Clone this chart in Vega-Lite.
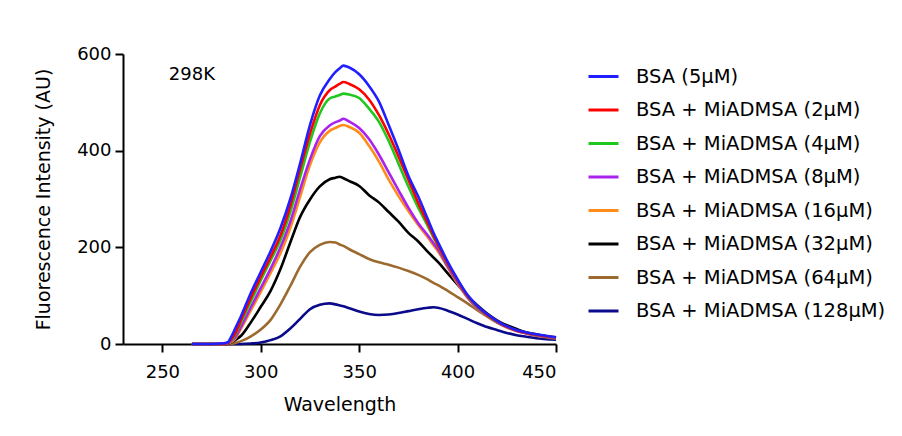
{
  "$schema": "https://vega.github.io/schema/vega-lite/v6.json",
  "width": 433,
  "height": 290,
  "autosize": {"type": "none"},
  "padding": {"left": 123, "top": 54, "right": 346, "bottom": 92},
  "background": "white",
  "config": {
    "view": {"stroke": null},
    "font": "DejaVu Sans",
    "axis": {
      "grid": false,
      "domainColor": "black",
      "domainWidth": 2,
      "tickColor": "black",
      "tickWidth": 2,
      "tickSize": 8,
      "labelFont": "DejaVu Sans",
      "labelFontSize": 18,
      "labelColor": "black",
      "titleFont": "DejaVu Sans",
      "titleFontSize": 19,
      "titleFontWeight": "normal",
      "titleColor": "black"
    },
    "legend": {
      "labelFont": "DejaVu Sans",
      "labelFontSize": 19.5,
      "labelColor": "black",
      "labelLimit": 400
    }
  },
  "datasets": {
    "spectra": [
      {"s":"BSA + MiADMSA (128μM)","w":265,"v":0},{"s":"BSA + MiADMSA (128μM)","w":270,"v":0},{"s":"BSA + MiADMSA (128μM)","w":275,"v":0},{"s":"BSA + MiADMSA (128μM)","w":280,"v":0},{"s":"BSA + MiADMSA (128μM)","w":283,"v":0},{"s":"BSA + MiADMSA (128μM)","w":285,"v":0},{"s":"BSA + MiADMSA (128μM)","w":287,"v":0},{"s":"BSA + MiADMSA (128μM)","w":290,"v":0},{"s":"BSA + MiADMSA (128μM)","w":295,"v":1},{"s":"BSA + MiADMSA (128μM)","w":300,"v":3},{"s":"BSA + MiADMSA (128μM)","w":305,"v":8},{"s":"BSA + MiADMSA (128μM)","w":310,"v":16},{"s":"BSA + MiADMSA (128μM)","w":315,"v":32},{"s":"BSA + MiADMSA (128μM)","w":320,"v":52},{"s":"BSA + MiADMSA (128μM)","w":325,"v":72},{"s":"BSA + MiADMSA (128μM)","w":330,"v":81},{"s":"BSA + MiADMSA (128μM)","w":335,"v":84},{"s":"BSA + MiADMSA (128μM)","w":338,"v":82},{"s":"BSA + MiADMSA (128μM)","w":340,"v":80},{"s":"BSA + MiADMSA (128μM)","w":342,"v":78},{"s":"BSA + MiADMSA (128μM)","w":345,"v":74},{"s":"BSA + MiADMSA (128μM)","w":350,"v":67},{"s":"BSA + MiADMSA (128μM)","w":355,"v":62},{"s":"BSA + MiADMSA (128μM)","w":360,"v":60},{"s":"BSA + MiADMSA (128μM)","w":365,"v":61},{"s":"BSA + MiADMSA (128μM)","w":370,"v":64},{"s":"BSA + MiADMSA (128μM)","w":375,"v":68},{"s":"BSA + MiADMSA (128μM)","w":380,"v":72},{"s":"BSA + MiADMSA (128μM)","w":385,"v":75},{"s":"BSA + MiADMSA (128μM)","w":388,"v":76},{"s":"BSA + MiADMSA (128μM)","w":390,"v":75},{"s":"BSA + MiADMSA (128μM)","w":395,"v":69},{"s":"BSA + MiADMSA (128μM)","w":400,"v":61},{"s":"BSA + MiADMSA (128μM)","w":405,"v":52},{"s":"BSA + MiADMSA (128μM)","w":410,"v":43},{"s":"BSA + MiADMSA (128μM)","w":415,"v":35},{"s":"BSA + MiADMSA (128μM)","w":420,"v":29},{"s":"BSA + MiADMSA (128μM)","w":425,"v":23},{"s":"BSA + MiADMSA (128μM)","w":430,"v":18},{"s":"BSA + MiADMSA (128μM)","w":435,"v":15},{"s":"BSA + MiADMSA (128μM)","w":440,"v":12},{"s":"BSA + MiADMSA (128μM)","w":445,"v":10},{"s":"BSA + MiADMSA (128μM)","w":450,"v":9},

      {"s":"BSA + MiADMSA (64μM)","w":265,"v":0},{"s":"BSA + MiADMSA (64μM)","w":270,"v":0},{"s":"BSA + MiADMSA (64μM)","w":275,"v":0},{"s":"BSA + MiADMSA (64μM)","w":280,"v":0},{"s":"BSA + MiADMSA (64μM)","w":283,"v":0},{"s":"BSA + MiADMSA (64μM)","w":285,"v":0},{"s":"BSA + MiADMSA (64μM)","w":287,"v":2},{"s":"BSA + MiADMSA (64μM)","w":290,"v":6},{"s":"BSA + MiADMSA (64μM)","w":295,"v":16},{"s":"BSA + MiADMSA (64μM)","w":300,"v":30},{"s":"BSA + MiADMSA (64μM)","w":305,"v":50},{"s":"BSA + MiADMSA (64μM)","w":310,"v":82},{"s":"BSA + MiADMSA (64μM)","w":315,"v":120},{"s":"BSA + MiADMSA (64μM)","w":320,"v":160},{"s":"BSA + MiADMSA (64μM)","w":325,"v":190},{"s":"BSA + MiADMSA (64μM)","w":330,"v":205},{"s":"BSA + MiADMSA (64μM)","w":335,"v":211},{"s":"BSA + MiADMSA (64μM)","w":338,"v":210},{"s":"BSA + MiADMSA (64μM)","w":340,"v":206},{"s":"BSA + MiADMSA (64μM)","w":342,"v":203},{"s":"BSA + MiADMSA (64μM)","w":345,"v":196},{"s":"BSA + MiADMSA (64μM)","w":350,"v":186},{"s":"BSA + MiADMSA (64μM)","w":355,"v":176},{"s":"BSA + MiADMSA (64μM)","w":360,"v":169},{"s":"BSA + MiADMSA (64μM)","w":365,"v":164},{"s":"BSA + MiADMSA (64μM)","w":370,"v":158},{"s":"BSA + MiADMSA (64μM)","w":375,"v":151},{"s":"BSA + MiADMSA (64μM)","w":380,"v":143},{"s":"BSA + MiADMSA (64μM)","w":385,"v":133},{"s":"BSA + MiADMSA (64μM)","w":388,"v":126},{"s":"BSA + MiADMSA (64μM)","w":390,"v":122},{"s":"BSA + MiADMSA (64μM)","w":395,"v":110},{"s":"BSA + MiADMSA (64μM)","w":400,"v":97},{"s":"BSA + MiADMSA (64μM)","w":405,"v":84},{"s":"BSA + MiADMSA (64μM)","w":410,"v":70},{"s":"BSA + MiADMSA (64μM)","w":415,"v":57},{"s":"BSA + MiADMSA (64μM)","w":420,"v":46},{"s":"BSA + MiADMSA (64μM)","w":425,"v":36},{"s":"BSA + MiADMSA (64μM)","w":430,"v":28},{"s":"BSA + MiADMSA (64μM)","w":435,"v":22},{"s":"BSA + MiADMSA (64μM)","w":440,"v":17},{"s":"BSA + MiADMSA (64μM)","w":445,"v":14},{"s":"BSA + MiADMSA (64μM)","w":450,"v":11},

      {"s":"BSA + MiADMSA (32μM)","w":265,"v":0},{"s":"BSA + MiADMSA (32μM)","w":270,"v":0},{"s":"BSA + MiADMSA (32μM)","w":275,"v":0},{"s":"BSA + MiADMSA (32μM)","w":280,"v":0},{"s":"BSA + MiADMSA (32μM)","w":283,"v":0},{"s":"BSA + MiADMSA (32μM)","w":285,"v":3},{"s":"BSA + MiADMSA (32μM)","w":287,"v":8},{"s":"BSA + MiADMSA (32μM)","w":290,"v":17},{"s":"BSA + MiADMSA (32μM)","w":295,"v":45},{"s":"BSA + MiADMSA (32μM)","w":300,"v":77},{"s":"BSA + MiADMSA (32μM)","w":305,"v":110},{"s":"BSA + MiADMSA (32μM)","w":310,"v":155},{"s":"BSA + MiADMSA (32μM)","w":315,"v":210},{"s":"BSA + MiADMSA (32μM)","w":320,"v":263},{"s":"BSA + MiADMSA (32μM)","w":325,"v":299},{"s":"BSA + MiADMSA (32μM)","w":330,"v":326},{"s":"BSA + MiADMSA (32μM)","w":335,"v":341},{"s":"BSA + MiADMSA (32μM)","w":338,"v":344},{"s":"BSA + MiADMSA (32μM)","w":340,"v":346},{"s":"BSA + MiADMSA (32μM)","w":342,"v":343},{"s":"BSA + MiADMSA (32μM)","w":345,"v":337},{"s":"BSA + MiADMSA (32μM)","w":350,"v":327},{"s":"BSA + MiADMSA (32μM)","w":355,"v":308},{"s":"BSA + MiADMSA (32μM)","w":360,"v":293},{"s":"BSA + MiADMSA (32μM)","w":365,"v":273},{"s":"BSA + MiADMSA (32μM)","w":370,"v":253},{"s":"BSA + MiADMSA (32μM)","w":375,"v":230},{"s":"BSA + MiADMSA (32μM)","w":380,"v":212},{"s":"BSA + MiADMSA (32μM)","w":385,"v":190},{"s":"BSA + MiADMSA (32μM)","w":388,"v":178},{"s":"BSA + MiADMSA (32μM)","w":390,"v":170},{"s":"BSA + MiADMSA (32μM)","w":395,"v":146},{"s":"BSA + MiADMSA (32μM)","w":400,"v":123},{"s":"BSA + MiADMSA (32μM)","w":405,"v":100},{"s":"BSA + MiADMSA (32μM)","w":410,"v":80},{"s":"BSA + MiADMSA (32μM)","w":415,"v":63},{"s":"BSA + MiADMSA (32μM)","w":420,"v":49},{"s":"BSA + MiADMSA (32μM)","w":425,"v":39},{"s":"BSA + MiADMSA (32μM)","w":430,"v":31},{"s":"BSA + MiADMSA (32μM)","w":435,"v":24},{"s":"BSA + MiADMSA (32μM)","w":440,"v":20},{"s":"BSA + MiADMSA (32μM)","w":445,"v":16},{"s":"BSA + MiADMSA (32μM)","w":450,"v":13},

      {"s":"BSA + MiADMSA (16μM)","w":265,"v":0},{"s":"BSA + MiADMSA (16μM)","w":270,"v":0},{"s":"BSA + MiADMSA (16μM)","w":275,"v":0},{"s":"BSA + MiADMSA (16μM)","w":280,"v":0},{"s":"BSA + MiADMSA (16μM)","w":283,"v":1},{"s":"BSA + MiADMSA (16μM)","w":285,"v":4},{"s":"BSA + MiADMSA (16μM)","w":287,"v":11},{"s":"BSA + MiADMSA (16μM)","w":290,"v":32},{"s":"BSA + MiADMSA (16μM)","w":295,"v":70},{"s":"BSA + MiADMSA (16μM)","w":300,"v":108},{"s":"BSA + MiADMSA (16μM)","w":305,"v":147},{"s":"BSA + MiADMSA (16μM)","w":310,"v":188},{"s":"BSA + MiADMSA (16μM)","w":315,"v":240},{"s":"BSA + MiADMSA (16μM)","w":320,"v":305},{"s":"BSA + MiADMSA (16μM)","w":325,"v":370},{"s":"BSA + MiADMSA (16μM)","w":330,"v":417},{"s":"BSA + MiADMSA (16μM)","w":335,"v":441},{"s":"BSA + MiADMSA (16μM)","w":338,"v":447},{"s":"BSA + MiADMSA (16μM)","w":340,"v":451},{"s":"BSA + MiADMSA (16μM)","w":342,"v":453},{"s":"BSA + MiADMSA (16μM)","w":345,"v":449},{"s":"BSA + MiADMSA (16μM)","w":350,"v":437},{"s":"BSA + MiADMSA (16μM)","w":355,"v":410},{"s":"BSA + MiADMSA (16μM)","w":360,"v":378},{"s":"BSA + MiADMSA (16μM)","w":365,"v":340},{"s":"BSA + MiADMSA (16μM)","w":370,"v":306},{"s":"BSA + MiADMSA (16μM)","w":375,"v":275},{"s":"BSA + MiADMSA (16μM)","w":380,"v":246},{"s":"BSA + MiADMSA (16μM)","w":385,"v":220},{"s":"BSA + MiADMSA (16μM)","w":388,"v":203},{"s":"BSA + MiADMSA (16μM)","w":390,"v":192},{"s":"BSA + MiADMSA (16μM)","w":395,"v":158},{"s":"BSA + MiADMSA (16μM)","w":400,"v":125},{"s":"BSA + MiADMSA (16μM)","w":405,"v":96},{"s":"BSA + MiADMSA (16μM)","w":410,"v":74},{"s":"BSA + MiADMSA (16μM)","w":415,"v":57},{"s":"BSA + MiADMSA (16μM)","w":420,"v":44},{"s":"BSA + MiADMSA (16μM)","w":425,"v":34},{"s":"BSA + MiADMSA (16μM)","w":430,"v":27},{"s":"BSA + MiADMSA (16μM)","w":435,"v":22},{"s":"BSA + MiADMSA (16μM)","w":440,"v":18},{"s":"BSA + MiADMSA (16μM)","w":445,"v":15},{"s":"BSA + MiADMSA (16μM)","w":450,"v":13},

      {"s":"BSA + MiADMSA (8μM)","w":265,"v":0},{"s":"BSA + MiADMSA (8μM)","w":270,"v":0},{"s":"BSA + MiADMSA (8μM)","w":275,"v":0},{"s":"BSA + MiADMSA (8μM)","w":280,"v":0},{"s":"BSA + MiADMSA (8μM)","w":283,"v":1},{"s":"BSA + MiADMSA (8μM)","w":285,"v":6},{"s":"BSA + MiADMSA (8μM)","w":287,"v":14},{"s":"BSA + MiADMSA (8μM)","w":290,"v":36},{"s":"BSA + MiADMSA (8μM)","w":295,"v":76},{"s":"BSA + MiADMSA (8μM)","w":300,"v":116},{"s":"BSA + MiADMSA (8μM)","w":305,"v":156},{"s":"BSA + MiADMSA (8μM)","w":310,"v":200},{"s":"BSA + MiADMSA (8μM)","w":315,"v":253},{"s":"BSA + MiADMSA (8μM)","w":320,"v":320},{"s":"BSA + MiADMSA (8μM)","w":325,"v":382},{"s":"BSA + MiADMSA (8μM)","w":330,"v":430},{"s":"BSA + MiADMSA (8μM)","w":335,"v":452},{"s":"BSA + MiADMSA (8μM)","w":338,"v":459},{"s":"BSA + MiADMSA (8μM)","w":340,"v":462},{"s":"BSA + MiADMSA (8μM)","w":342,"v":466},{"s":"BSA + MiADMSA (8μM)","w":345,"v":460},{"s":"BSA + MiADMSA (8μM)","w":350,"v":447},{"s":"BSA + MiADMSA (8μM)","w":355,"v":424},{"s":"BSA + MiADMSA (8μM)","w":360,"v":392},{"s":"BSA + MiADMSA (8μM)","w":365,"v":355},{"s":"BSA + MiADMSA (8μM)","w":370,"v":318},{"s":"BSA + MiADMSA (8μM)","w":375,"v":282},{"s":"BSA + MiADMSA (8μM)","w":380,"v":250},{"s":"BSA + MiADMSA (8μM)","w":385,"v":224},{"s":"BSA + MiADMSA (8μM)","w":388,"v":207},{"s":"BSA + MiADMSA (8μM)","w":390,"v":196},{"s":"BSA + MiADMSA (8μM)","w":395,"v":160},{"s":"BSA + MiADMSA (8μM)","w":400,"v":127},{"s":"BSA + MiADMSA (8μM)","w":405,"v":97},{"s":"BSA + MiADMSA (8μM)","w":410,"v":75},{"s":"BSA + MiADMSA (8μM)","w":415,"v":58},{"s":"BSA + MiADMSA (8μM)","w":420,"v":45},{"s":"BSA + MiADMSA (8μM)","w":425,"v":35},{"s":"BSA + MiADMSA (8μM)","w":430,"v":27},{"s":"BSA + MiADMSA (8μM)","w":435,"v":22},{"s":"BSA + MiADMSA (8μM)","w":440,"v":18},{"s":"BSA + MiADMSA (8μM)","w":445,"v":15},{"s":"BSA + MiADMSA (8μM)","w":450,"v":13},

      {"s":"BSA + MiADMSA (4μM)","w":265,"v":0},{"s":"BSA + MiADMSA (4μM)","w":270,"v":0},{"s":"BSA + MiADMSA (4μM)","w":275,"v":0},{"s":"BSA + MiADMSA (4μM)","w":280,"v":0},{"s":"BSA + MiADMSA (4μM)","w":283,"v":2},{"s":"BSA + MiADMSA (4μM)","w":285,"v":8},{"s":"BSA + MiADMSA (4μM)","w":287,"v":19},{"s":"BSA + MiADMSA (4μM)","w":290,"v":45},{"s":"BSA + MiADMSA (4μM)","w":295,"v":88},{"s":"BSA + MiADMSA (4μM)","w":300,"v":132},{"s":"BSA + MiADMSA (4μM)","w":305,"v":173},{"s":"BSA + MiADMSA (4μM)","w":310,"v":215},{"s":"BSA + MiADMSA (4μM)","w":315,"v":273},{"s":"BSA + MiADMSA (4μM)","w":320,"v":345},{"s":"BSA + MiADMSA (4μM)","w":325,"v":418},{"s":"BSA + MiADMSA (4μM)","w":330,"v":477},{"s":"BSA + MiADMSA (4μM)","w":335,"v":508},{"s":"BSA + MiADMSA (4μM)","w":338,"v":512},{"s":"BSA + MiADMSA (4μM)","w":340,"v":515},{"s":"BSA + MiADMSA (4μM)","w":342,"v":518},{"s":"BSA + MiADMSA (4μM)","w":345,"v":516},{"s":"BSA + MiADMSA (4μM)","w":350,"v":509},{"s":"BSA + MiADMSA (4μM)","w":355,"v":487},{"s":"BSA + MiADMSA (4μM)","w":360,"v":460},{"s":"BSA + MiADMSA (4μM)","w":365,"v":420},{"s":"BSA + MiADMSA (4μM)","w":370,"v":373},{"s":"BSA + MiADMSA (4μM)","w":375,"v":326},{"s":"BSA + MiADMSA (4μM)","w":380,"v":282},{"s":"BSA + MiADMSA (4μM)","w":385,"v":243},{"s":"BSA + MiADMSA (4μM)","w":388,"v":218},{"s":"BSA + MiADMSA (4μM)","w":390,"v":203},{"s":"BSA + MiADMSA (4μM)","w":395,"v":164},{"s":"BSA + MiADMSA (4μM)","w":400,"v":130},{"s":"BSA + MiADMSA (4μM)","w":405,"v":99},{"s":"BSA + MiADMSA (4μM)","w":410,"v":77},{"s":"BSA + MiADMSA (4μM)","w":415,"v":59},{"s":"BSA + MiADMSA (4μM)","w":420,"v":46},{"s":"BSA + MiADMSA (4μM)","w":425,"v":36},{"s":"BSA + MiADMSA (4μM)","w":430,"v":28},{"s":"BSA + MiADMSA (4μM)","w":435,"v":23},{"s":"BSA + MiADMSA (4μM)","w":440,"v":19},{"s":"BSA + MiADMSA (4μM)","w":445,"v":16},{"s":"BSA + MiADMSA (4μM)","w":450,"v":14},

      {"s":"BSA + MiADMSA (2μM)","w":265,"v":0},{"s":"BSA + MiADMSA (2μM)","w":270,"v":0},{"s":"BSA + MiADMSA (2μM)","w":275,"v":0},{"s":"BSA + MiADMSA (2μM)","w":280,"v":0},{"s":"BSA + MiADMSA (2μM)","w":283,"v":2},{"s":"BSA + MiADMSA (2μM)","w":285,"v":10},{"s":"BSA + MiADMSA (2μM)","w":287,"v":22},{"s":"BSA + MiADMSA (2μM)","w":290,"v":50},{"s":"BSA + MiADMSA (2μM)","w":295,"v":96},{"s":"BSA + MiADMSA (2μM)","w":300,"v":139},{"s":"BSA + MiADMSA (2μM)","w":305,"v":180},{"s":"BSA + MiADMSA (2μM)","w":310,"v":225},{"s":"BSA + MiADMSA (2μM)","w":315,"v":286},{"s":"BSA + MiADMSA (2μM)","w":320,"v":362},{"s":"BSA + MiADMSA (2μM)","w":325,"v":435},{"s":"BSA + MiADMSA (2μM)","w":330,"v":494},{"s":"BSA + MiADMSA (2μM)","w":335,"v":525},{"s":"BSA + MiADMSA (2μM)","w":338,"v":533},{"s":"BSA + MiADMSA (2μM)","w":340,"v":538},{"s":"BSA + MiADMSA (2μM)","w":342,"v":542},{"s":"BSA + MiADMSA (2μM)","w":345,"v":538},{"s":"BSA + MiADMSA (2μM)","w":350,"v":527},{"s":"BSA + MiADMSA (2μM)","w":355,"v":506},{"s":"BSA + MiADMSA (2μM)","w":360,"v":474},{"s":"BSA + MiADMSA (2μM)","w":365,"v":434},{"s":"BSA + MiADMSA (2μM)","w":370,"v":388},{"s":"BSA + MiADMSA (2μM)","w":375,"v":340},{"s":"BSA + MiADMSA (2μM)","w":380,"v":292},{"s":"BSA + MiADMSA (2μM)","w":385,"v":248},{"s":"BSA + MiADMSA (2μM)","w":388,"v":222},{"s":"BSA + MiADMSA (2μM)","w":390,"v":205},{"s":"BSA + MiADMSA (2μM)","w":395,"v":166},{"s":"BSA + MiADMSA (2μM)","w":400,"v":131},{"s":"BSA + MiADMSA (2μM)","w":405,"v":100},{"s":"BSA + MiADMSA (2μM)","w":410,"v":78},{"s":"BSA + MiADMSA (2μM)","w":415,"v":60},{"s":"BSA + MiADMSA (2μM)","w":420,"v":47},{"s":"BSA + MiADMSA (2μM)","w":425,"v":36},{"s":"BSA + MiADMSA (2μM)","w":430,"v":28},{"s":"BSA + MiADMSA (2μM)","w":435,"v":23},{"s":"BSA + MiADMSA (2μM)","w":440,"v":19},{"s":"BSA + MiADMSA (2μM)","w":445,"v":16},{"s":"BSA + MiADMSA (2μM)","w":450,"v":14},

      {"s":"BSA (5μM)","w":265,"v":0},{"s":"BSA (5μM)","w":270,"v":0},{"s":"BSA (5μM)","w":275,"v":0},{"s":"BSA (5μM)","w":280,"v":1},{"s":"BSA (5μM)","w":283,"v":3},{"s":"BSA (5μM)","w":285,"v":15},{"s":"BSA (5μM)","w":287,"v":32},{"s":"BSA (5μM)","w":290,"v":58},{"s":"BSA (5μM)","w":295,"v":106},{"s":"BSA (5μM)","w":300,"v":149},{"s":"BSA (5μM)","w":305,"v":192},{"s":"BSA (5μM)","w":310,"v":240},{"s":"BSA (5μM)","w":315,"v":300},{"s":"BSA (5μM)","w":320,"v":374},{"s":"BSA (5μM)","w":325,"v":453},{"s":"BSA (5μM)","w":330,"v":514},{"s":"BSA (5μM)","w":335,"v":548},{"s":"BSA (5μM)","w":338,"v":563},{"s":"BSA (5μM)","w":340,"v":570},{"s":"BSA (5μM)","w":342,"v":576},{"s":"BSA (5μM)","w":345,"v":572},{"s":"BSA (5μM)","w":350,"v":558},{"s":"BSA (5μM)","w":355,"v":534},{"s":"BSA (5μM)","w":360,"v":502},{"s":"BSA (5μM)","w":365,"v":453},{"s":"BSA (5μM)","w":370,"v":402},{"s":"BSA (5μM)","w":375,"v":348},{"s":"BSA (5μM)","w":380,"v":305},{"s":"BSA (5μM)","w":385,"v":257},{"s":"BSA (5μM)","w":388,"v":228},{"s":"BSA (5μM)","w":390,"v":211},{"s":"BSA (5μM)","w":395,"v":170},{"s":"BSA (5μM)","w":400,"v":134},{"s":"BSA (5μM)","w":405,"v":102},{"s":"BSA (5μM)","w":410,"v":79},{"s":"BSA (5μM)","w":415,"v":62},{"s":"BSA (5μM)","w":420,"v":48},{"s":"BSA (5μM)","w":425,"v":37},{"s":"BSA (5μM)","w":430,"v":29},{"s":"BSA (5μM)","w":435,"v":24},{"s":"BSA (5μM)","w":440,"v":20},{"s":"BSA (5μM)","w":445,"v":17},{"s":"BSA (5μM)","w":450,"v":14}
    ],
    "label": [{"w": 265, "v": 557, "t": "298K"}]
  },
  "layer": [
    {
      "data": {"name": "spectra"},
      "mark": {"type": "line", "strokeWidth": 2.6, "interpolate": "monotone"},
      "encoding": {
        "x": {
          "field": "w", "type": "quantitative", "title": "Wavelength",
          "scale": {"domain": [230, 450], "nice": false, "zero": false},
          "axis": {"values": [250, 300, 350, 400, 450], "labelPadding": 11, "titlePadding": 14}
        },
        "y": {
          "field": "v", "type": "quantitative", "title": "Fluorescence Intensity (AU)",
          "scale": {"domain": [0, 600], "nice": false},
          "axis": {"values": [0, 200, 400, 600], "labelPadding": 4, "titlePadding": 23}
        },
        "color": {
          "field": "s", "type": "nominal",
          "scale": {
            "domain": ["BSA (5μM)", "BSA + MiADMSA (2μM)", "BSA + MiADMSA (4μM)", "BSA + MiADMSA (8μM)", "BSA + MiADMSA (16μM)", "BSA + MiADMSA (32μM)", "BSA + MiADMSA (64μM)", "BSA + MiADMSA (128μM)"],
            "range": ["#1f1fff", "#ff0000", "#1ec81e", "#aa22ee", "#ff8c1a", "#000000", "#9c6a2e", "#0a0a8a"]
          },
          "legend": {
            "title": null,
            "orient": "right",
            "offset": 19,
            "padding": 6,
            "symbolType": "stroke",
            "symbolSize": 900,
            "symbolStrokeWidth": 3,
            "labelOffset": 16,
            "rowPadding": 7.5
          }
        }
      }
    },
    {
      "data": {"name": "label"},
      "mark": {"type": "text", "font": "DejaVu Sans", "fontSize": 18, "color": "black", "align": "center", "baseline": "middle"},
      "encoding": {
        "x": {"field": "w", "type": "quantitative"},
        "y": {"field": "v", "type": "quantitative"},
        "text": {"field": "t"}
      }
    }
  ]
}
